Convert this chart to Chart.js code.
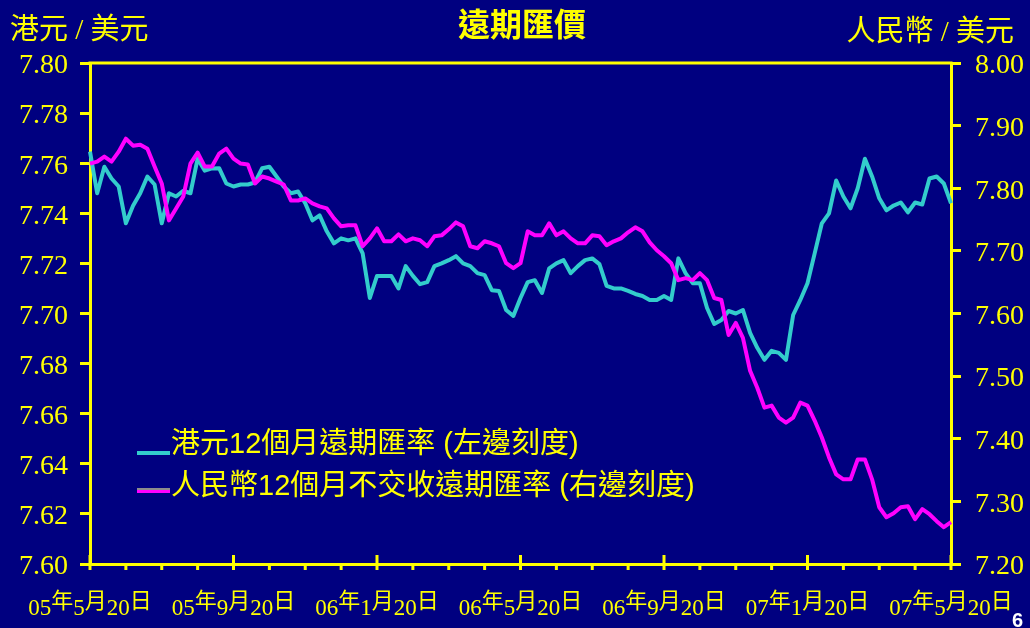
<!DOCTYPE html>
<html><head><meta charset="utf-8">
<script src="https://cdn.jsdelivr.net/npm/chart.js@4"></script>
<style>html,body{margin:0;padding:0;background:#000080;overflow:hidden}#wrap{width:1030px;height:628px;position:relative}</style>
</head><body><div id="wrap"><canvas id="c" width="1030" height="628"></canvas></div>
<script>
const chartTitle = '遠期匯價';
const leftAxisTitle = '港元 / 美元';
const rightAxisTitle = '人民幣 / 美元';
const seriesNames = ['港元12個月遠期匯率 (左邊刻度)', '人民幣12個月不交收遠期匯率 (右邊刻度)'];
const xTickLabels = ['05年5月20日','05年9月20日','06年1月20日','06年5月20日','06年9月20日','07年1月20日','07年5月20日'];
const leftRange = [7.60, 7.80, 0.02];
const rightRange = [7.20, 8.00, 0.10];
const pageNumber = '6';

// HKD 12-month forward (left axis)
const hkd = [7.7646,7.748,7.7586,7.7539,7.7507,7.736,7.743,7.748,7.7547,7.7515,
7.736,7.748,7.7467,7.749,7.748,7.7618,7.757,7.7579,7.758,7.7519,
7.7507,7.7515,7.7515,7.7523,7.758,7.7586,7.7547,7.7507,7.748,7.7487,
7.744,7.7372,7.7392,7.7328,7.728,7.730,7.7292,7.730,7.724,7.7062,
7.715,7.715,7.715,7.710,7.7189,7.715,7.7117,7.7125,7.7189,7.720,
7.7213,7.7229,7.720,7.7189,7.7161,7.7153,7.7093,7.709,7.7014,7.699,
7.7062,7.7125,7.7133,7.7082,7.718,7.720,7.7213,7.7161,7.7189,7.7213,
7.722,7.7197,7.711,7.710,7.710,7.709,7.7078,7.707,7.7054,7.7054,
7.707,7.7054,7.722,7.7161,7.7121,7.7121,7.7022,7.6958,7.6974,7.701,
7.700,7.7014,7.6923,7.6863,7.6815,7.6851,7.6843,7.6815,7.6994,7.7054,
7.7121,7.724,7.736,7.740,7.7531,7.7467,7.742,7.750,7.7618,7.7547,
7.746,7.7412,7.7431,7.7443,7.7404,7.7443,7.7435,7.7539,7.7547,7.7519,7.744];

// RMB 12-month NDF (right axis)
const cny = [7.8394,7.8425,7.8505,7.8425,7.8584,7.8791,7.868,7.8696,7.8632,7.8346,
7.8076,7.7487,7.7678,7.7869,7.8394,7.8569,7.8346,7.8346,7.8553,7.8632,
7.8473,7.8394,7.8378,7.8076,7.8187,7.8155,7.8107,7.806,7.7805,7.7805,
7.7837,7.7757,7.771,7.7678,7.7519,7.7392,7.7408,7.7408,7.7074,7.720,
7.736,7.7153,7.7153,7.7264,7.7153,7.720,7.7169,7.7074,7.7232,7.7248,
7.7344,7.7455,7.7392,7.7074,7.7042,7.7153,7.7121,7.7074,7.6803,7.6724,
7.6803,7.7312,7.7248,7.7248,7.7439,7.7248,7.7312,7.720,7.7121,7.7121,
7.7248,7.7232,7.7089,7.7153,7.720,7.7296,7.7376,7.7312,7.7137,7.701,
7.6914,7.6803,7.6533,7.6565,7.6533,7.6644,7.6533,7.6247,7.6215,7.5658,
7.5849,7.561,7.5085,7.4815,7.4497,7.4529,7.4338,7.4258,7.4338,7.4576,
7.4529,7.429,7.402,7.3702,7.3431,7.3352,7.3352,7.367,7.367,7.3352,
7.2906,7.2747,7.2811,7.2906,7.2922,7.2716,7.2875,7.2795,7.2684,7.2588,7.2668];

const categories = hkd.map((_, i) => String(i));
const minorEvery = 5, majorEvery = 20;

const YELLOW = '#FFFF00', NAVY = '#000080', CYAN = '#33CCCC', MAGENTA = '#FF00FF';

const decorPlugin = {
  id: 'decor',
  beforeDraw(chart) {
    const ctx = chart.ctx;
    ctx.save();
    ctx.fillStyle = NAVY;
    ctx.fillRect(0, 0, chart.width, chart.height);
    ctx.restore();
  },
  afterDraw(chart) {
    const ctx = chart.ctx, a = chart.chartArea, xs = chart.scales.x;
    ctx.save();
    // top frame line
    ctx.strokeStyle = YELLOW; ctx.lineWidth = 3;
    ctx.beginPath(); ctx.moveTo(a.left - 1.5, a.top); ctx.lineTo(a.right + 1.5, a.top); ctx.stroke();
    // x ticks
    for (let i = 0; i < categories.length; i += minorEvery) {
      const px = xs.getPixelForValue(i);
      ctx.beginPath();
      if (i % majorEvery === 0) { ctx.moveTo(px, a.bottom - 9); ctx.lineTo(px, a.bottom + 6); }
      else { ctx.moveTo(px, a.bottom); ctx.lineTo(px, a.bottom + 6); }
      ctx.stroke();
    }
    // x labels, mixed fonts
    const digitFont = '23px "Liberation Serif"';
    const cjkFont = '22px "Noto Sans CJK TC"';
    ctx.fillStyle = YELLOW; ctx.textBaseline = 'alphabetic'; ctx.textAlign = 'left';
    xTickLabels.forEach((lab, k) => {
      const px = xs.getPixelForValue(k * majorEvery);
      const parts = lab.match(/\d+|\D+/g);
      let total = 0;
      const widths = parts.map(p => { ctx.font = /\d/.test(p) ? digitFont : cjkFont; const w = ctx.measureText(p).width; total += w; return w; });
      let x = px - total / 2;
      parts.forEach((p, j) => {
        const d = /\d/.test(p);
        ctx.font = d ? digitFont : cjkFont;
        ctx.fillText(p, x, d ? a.bottom + 51 : a.bottom + 44);
        x += widths[j];
      });
    });
    // titles
    ctx.font = 'bold 32px "Noto Sans CJK TC"';
    ctx.textAlign = 'center';
    ctx.fillText(chartTitle, 522, 36);
    ctx.font = '29px "Liberation Serif", "Noto Sans CJK TC"';
    ctx.textAlign = 'left';
    ctx.fillText(leftAxisTitle, 10, 39);
    ctx.textAlign = 'right';
    ctx.fillText(rightAxisTitle, 1014, 41);
    // legend
    ctx.textAlign = 'left';
    ctx.font = '29px "Liberation Sans", "Noto Sans CJK TC"';
    const legY = [453, 495];
    const legCol = [CYAN, MAGENTA];
    seriesNames.forEach((n, k) => {
      if (k === 1) {
        ctx.strokeStyle = '#8C8C8C'; ctx.lineWidth = 2;
        ctx.beginPath(); ctx.moveTo(137, legY[k] - 6); ctx.lineTo(170, legY[k] - 6); ctx.stroke();
      }
      ctx.strokeStyle = legCol[k]; ctx.lineWidth = k === 1 ? 3 : 4;
      ctx.beginPath(); ctx.moveTo(137, legY[k] - (k === 1 ? 3.5 : 0)); ctx.lineTo(170, legY[k] - (k === 1 ? 3.5 : 0)); ctx.stroke();
      ctx.fillStyle = YELLOW;
      ctx.fillText(n, 171, legY[k]);
    });
    // page number
    ctx.fillStyle = '#FFFFFF';
    ctx.font = 'bold 20px "Liberation Sans"';
    ctx.textBaseline = 'top';
    ctx.fillText(pageNumber, 1012, 611);
    ctx.restore();
  }
};

const yAxis = (pos, rng, width, pad) => ({
  type: 'linear', position: pos, min: rng[0], max: rng[1],
  ticks: { stepSize: rng[2], color: YELLOW, padding: pad, labelOffset: 3,
    font: { family: '"Liberation Serif"', size: 28 },
    callback: v => Number(v).toFixed(2) },
  grid: { drawOnChartArea: false, color: YELLOW, lineWidth: 3, tickLength: 10 },
  border: { display: true, color: YELLOW, width: 3 },
  afterFit: s => { s.width = width; }
});

new Chart(document.getElementById('c'), {
  type: 'line',
  data: {
    labels: categories,
    datasets: [
      { label: seriesNames[0], data: hkd, yAxisID: 'yL', borderColor: CYAN, borderWidth: 4, pointRadius: 0, tension: 0, order: 1, borderJoinStyle: 'round' },
      { label: seriesNames[1], data: cny, yAxisID: 'yR', borderColor: MAGENTA, borderWidth: 4, pointRadius: 0, tension: 0, order: 0, borderJoinStyle: 'round' }
    ]
  },
  options: {
    responsive: false, animation: false, devicePixelRatio: 1,
    layout: { padding: { top: 63, left: 0, right: 0, bottom: 0 } },
    plugins: { legend: { display: false }, tooltip: { enabled: false }, title: { display: false } },
    scales: {
      x: { type: 'category', offset: false,
        ticks: { display: false }, grid: { display: false },
        border: { display: true, color: YELLOW, width: 3 },
        afterFit: s => { s.height = 64; } },
      yL: yAxis('left', leftRange, 90, 12),
      yR: yAxis('right', rightRange, 79, 14)
    }
  },
  plugins: [decorPlugin]
});
</script></body></html>
